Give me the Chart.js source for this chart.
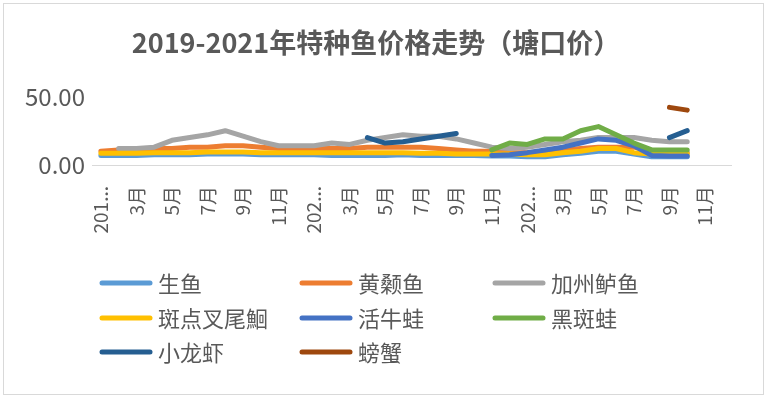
<!DOCTYPE html>
<html>
<head>
<meta charset="utf-8">
<script src="https://cdn.jsdelivr.net/npm/chart.js@4.4.0/dist/chart.umd.min.js"></script>
<style>
  html, body { margin: 0; padding: 0; background: #fff; }
  #wrap { width: 767px; height: 399px; position: relative; }
</style>
</head>
<body>
<div id="wrap"><canvas id="c" width="767" height="399"></canvas></div>
<script>
const chartTitle = '2019-2021年特种鱼价格走势（塘口价）';

const categories = [
  '2019年1月','2月','3月','4月','5月','6月','7月','8月','9月','10月','11月','12月',
  '2020年1月','2月','3月','4月','5月','6月','7月','8月','9月','10月','11月','12月',
  '2021年1月','2月','3月','4月','5月','6月','7月','8月','9月','10月','11月','12月'
];

const seriesNames = ['生鱼','黄颡鱼','加州鲈鱼','斑点叉尾鮰','活牛蛙','黑斑蛙','小龙虾','螃蟹'];
const seriesColors = ['#5B9BD5','#ED7D31','#A5A5A5','#FFC000','#4472C4','#70AD47','#255E91','#9E480E'];

const shengYu = [7,7,7,7.5,7.5,7.5,8,8,8,7.5,7.5,7.5, 7.5,7,7,7,7,7.5,7,7,7,7,6.5,6.5, 6,6,7.5,8.5,10,10,8,6,6,6,null,null];
const huangSangYu = [10,11,11,12,12,13,13,14,14,13,12,12, 12,12,12,13,13,13,13,12,11,10,10,9, 9,10,11,12,13,13,13,10,9,9,null,null];
const jiaZhouLuYu = [null,12,12,13,18,20,22,25,21,17,14,14, 14,16,15,18,20,22,21,21,19,16,13,12, 13,15,17,18,20,20,20,18,17,17,null,null];
const banDianChaWeiHui = [8.5,8.5,8.5,9,9,9,9.5,9.5,9.5,9,9,9, 9,9,9,9,9,9,8.5,8.5,8,8,8,8, 7.5,7.5,9,10,12,12,9,8,8,8,null,null];
const huoNiuWa = [null,null,null,null,null,null,null,null,null,null,null,null,
  null,null,null,null,null,null,null,null,null,null,7,7.5, 9,11,13,16,19,18,14,7,6.5,6.5,null,null];
const heiBanWa = [null,null,null,null,null,null,null,null,null,null,null,null,
  null,null,null,null,null,null,null,null,null,null,11,16, 15,19,19,25,28,22,16,11,11,11,null,null];
const xiaoLongXia = [null,null,null,null,null,null,null,null,null,null,null,null,
  null,null,null,20,16,17,19,21,23,null,null,null, null,null,null,null,null,null,null,null,20,25,null,null];
const pangXie = [null,null,null,null,null,null,null,null,null,null,null,null,
  null,null,null,null,null,null,null,null,null,null,null,null, null,null,null,null,null,null,null,null,42,40,null,null];

const seriesValues = [shengYu, huangSangYu, jiaZhouLuYu, banDianChaWeiHui, huoNiuWa, heiBanWa, xiaoLongXia, pangXie];

const yTickValues = [0, 50];

const FONT = '"Noto Sans CJK SC", "Noto Sans", sans-serif';
const TEXT = '#595959';

const bgPlugin = {
  id: 'bg',
  beforeDraw(chart) {
    const ctx = chart.ctx;
    ctx.save();
    ctx.fillStyle = '#ffffff';
    ctx.fillRect(0, 0, chart.width, chart.height);
    ctx.strokeStyle = '#d9d9d9';
    ctx.lineWidth = 1;
    ctx.strokeRect(3.5, 3.5, chart.width - 7, chart.height - 8);
    ctx.restore();
  }
};

const gridLegend = {
  id: 'gridLegend',
  afterDraw(chart) {
    const ctx = chart.ctx;
    const colX = [100, 300, 493];
    const rowY = [283, 318, 352];
    ctx.save();
    ctx.font = '22px ' + FONT;
    ctx.textBaseline = 'middle';
    ctx.textAlign = 'left';
    chart.data.datasets.forEach((ds, i) => {
      const x = colX[i % 3];
      const y = rowY[Math.floor(i / 3)];
      ctx.strokeStyle = ds.borderColor;
      ctx.lineWidth = 5;
      ctx.lineCap = 'round';
      ctx.beginPath();
      ctx.moveTo(x + 2, y);
      ctx.lineTo(x + 50, y);
      ctx.stroke();
      ctx.fillStyle = TEXT;
      ctx.fillText(ds.label, x + 58, y + 1);
    });
    ctx.restore();
  }
};

const datasets = seriesNames.map((name, i) => ({
  label: name,
  data: seriesValues[i],
  borderColor: seriesColors[i],
  backgroundColor: seriesColors[i],
  borderWidth: 5,
  borderCapStyle: 'round',
  borderJoinStyle: 'round',
  pointRadius: 0,
  pointHoverRadius: 0,
  tension: 0,
  spanGaps: false,
  fill: false,
  order: -i
}));

new Chart(document.getElementById('c'), {
  type: 'line',
  data: { labels: categories, datasets },
  plugins: [bgPlugin, gridLegend],
  options: {
    responsive: false,
    devicePixelRatio: 1,
    animation: false,
    layout: { padding: { left: 0, right: 15, top: 0, bottom: 144 } },
    plugins: {
      legend: { display: false },
      tooltip: { enabled: false },
      title: {
        display: true,
        text: chartTitle,
        color: TEXT,
        font: { family: FONT, size: 27, weight: 'bold' },
        padding: { top: 27, bottom: 37 }
      }
    },
    scales: {
      x: {
        offset: true,
        grid: { display: false, drawTicks: false },
        border: { display: true, color: '#d9d9d9', width: 1 },
        ticks: {
          autoSkip: false,
          minRotation: 90,
          maxRotation: 90,
          padding: 21,
          color: TEXT,
          font: { family: FONT, size: 19 },
          callback: function (v, idx) {
            if (idx % 2 !== 0) return '';
            const s = categories[idx];
            return s.length > 4 ? s.slice(0, 3) + '...' : s;
          }
        },
        afterFit(scale) { scale.height = 90; }
      },
      y: {
        min: yTickValues[0],
        max: yTickValues[yTickValues.length - 1],
        grid: { display: false, drawTicks: false },
        border: { display: false },
        afterBuildTicks(scale) { scale.ticks = yTickValues.map(v => ({ value: v })); },
        ticks: {
          padding: 7,
          color: TEXT,
          font: { family: FONT, size: 24 },
          callback: v => Number(v).toFixed(2)
        },
        afterFit(scale) { scale.width = 92; }
      },
      yRight: {
        position: 'right',
        display: true,
        min: yTickValues[0],
        max: yTickValues[yTickValues.length - 1],
        grid: { display: false, drawTicks: false },
        border: { display: false },
        ticks: { display: false },
        afterFit(scale) { scale.width = 17; }
      }
    }
  }
});
</script>
</body>
</html>
